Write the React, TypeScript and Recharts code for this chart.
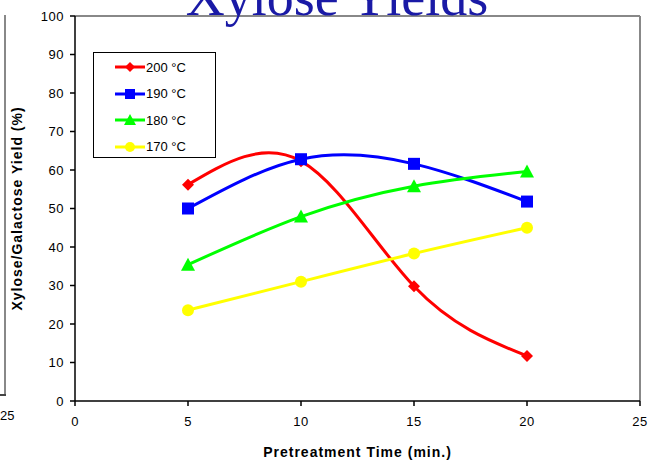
import { LineChart, Line, XAxis, YAxis, ReferenceLine } from "recharts"

// pretreatment time (min.)
const times = [5, 10, 15, 20]

// xylose/galactose yield (%) per temperature
const yield200 = [56.2, 62.3, 29.8, 11.7]
const yield190 = [50.0, 62.8, 61.6, 51.8]
const yield180 = [35.4, 47.9, 55.8, 59.6]
const yield170 = [23.6, 31.0, 38.3, 45.0]

const xTicks = [0, 5, 10, 15, 20, 25]
const yTicks = [0, 10, 20, 30, 40, 50, 60, 70, 80, 90, 100]

const series = [
  { key: "t200", name: "200 °C", color: "#ff0000", shape: "diamond", values: yield200 },
  { key: "t190", name: "190 °C", color: "#0000ff", shape: "square", values: yield190 },
  { key: "t180", name: "180 °C", color: "#00ff00", shape: "triangle", values: yield180 },
  { key: "t170", name: "170 °C", color: "#ffff00", shape: "circle", values: yield170 },
]

const data = times.map((t, i) => {
  const row: Record<string, number> = { time: t }
  series.forEach((s) => {
    row[s.key] = s.values[i]
  })
  return row
})

const font = "Arial, 'Liberation Sans', sans-serif"

function marker(shape: string, cx: number, cy: number, color: string, r = 5) {
  if (shape === "diamond") {
    return <polygon points={`${cx},${cy - r} ${cx + r},${cy} ${cx},${cy + r} ${cx - r},${cy}`} fill={color} />
  }
  if (shape === "square") {
    return <rect x={cx - r} y={cy - r} width={r * 2} height={r * 2} fill={color} />
  }
  if (shape === "triangle") {
    return <polygon points={`${cx},${cy - r - 1} ${cx + r + 1},${cy + r} ${cx - r - 1},${cy + r}`} fill={color} />
  }
  return <circle cx={cx} cy={cy} r={r} fill={color} />
}

function LegendBox() {
  return (
    <div
      style={{
        position: "absolute",
        left: 93,
        top: 52,
        border: "1.5px solid #000",
        background: "#fff",
        width: 123,
        height: 106,
        boxSizing: "border-box",
        paddingTop: 1,
        zIndex: 3,
      }}
    >
      {series.map((s) => (
        <div key={s.key} style={{ display: "flex", alignItems: "center", height: 26.5, paddingLeft: 21 }}>
          <svg width={30} height={14}>
            <line x1={0} y1={7} x2={30} y2={7} stroke={s.color} strokeWidth={3} />
            {marker(s.shape, 15, 7, s.color, 5)}
          </svg>
          <span style={{ fontFamily: font, fontSize: 13, color: "#000", marginLeft: 1 }}>{s.name}</span>
        </div>
      ))}
    </div>
  )
}

export default function App() {
  return (
    <div style={{ position: "absolute", left: 0, top: 0, width: 652, height: 463, overflow: "hidden", background: "#fff" }}>
      {/* fragment of neighbouring chart */}
      <div style={{ position: "absolute", left: 4, top: 15, width: 2, height: 381, background: "#888" }} />
      <div style={{ position: "absolute", left: 0, top: 394, width: 6, height: 2, background: "#444" }} />
      <div style={{ position: "absolute", left: 0, top: 408, fontFamily: font, fontSize: 13 }}>25</div>

      <div
        style={{
          position: "absolute",
          left: 0,
          width: 674,
          top: -33,
          textAlign: "center",
          fontFamily: "'Liberation Serif', 'Times New Roman', serif",
          fontSize: 54,
          color: "#1a1aa6",
          lineHeight: "60px",
          zIndex: 2,
        }}
      >
        Xylose Yields
      </div>

      <LegendBox />

      <LineChart width={652} height={463} data={data} margin={{ top: 16, right: 12, bottom: 0, left: 0 }}>
        <XAxis
          dataKey="time"
          type="number"
          domain={[0, 25]}
          ticks={xTicks}
          height={62}
          stroke="#000"
          strokeWidth={1.5}
          tickSize={5}
          tickMargin={11}
          tick={{ fill: "#000", fontSize: 13, fontFamily: font, letterSpacing: 0.5 }}
          label={{ value: "Pretreatment Time (min.)", position: "insideBottom", offset: 6, fill: "#000", fontSize: 14, fontWeight: "bold", fontFamily: font, letterSpacing: 1 }}
        />
        <YAxis
          type="number"
          domain={[0, 100]}
          ticks={yTicks}
          width={75}
          stroke="#000"
          strokeWidth={1.5}
          tickSize={5}
          tickMargin={6}
          interval={0}
          tick={{ fill: "#000", fontSize: 13, fontFamily: font, letterSpacing: 0.5 }}
          label={{ value: "Xylose/Galactose Yield (%)", angle: -90, position: "insideLeft", offset: 17, fill: "#000", fontSize: 14, fontWeight: "bold", fontFamily: font, letterSpacing: 1, style: { textAnchor: "middle" } }}
        />
        <ReferenceLine y={100} stroke="#888" strokeWidth={2} />
        <ReferenceLine x={25} stroke="#888" strokeWidth={2} />
        {series.map((s) => (
          <Line
            key={s.key}
            dataKey={s.key}
            name={s.name}
            type="natural"
            stroke={s.color}
            strokeWidth={3}
            isAnimationActive={false}
            dot={(p: any) => <g key={`${s.key}-${p.index}`}>{marker(s.shape, p.cx, p.cy, s.color, 6)}</g>}
            activeDot={false}
          />
        ))}
      </LineChart>
    </div>
  )
}
